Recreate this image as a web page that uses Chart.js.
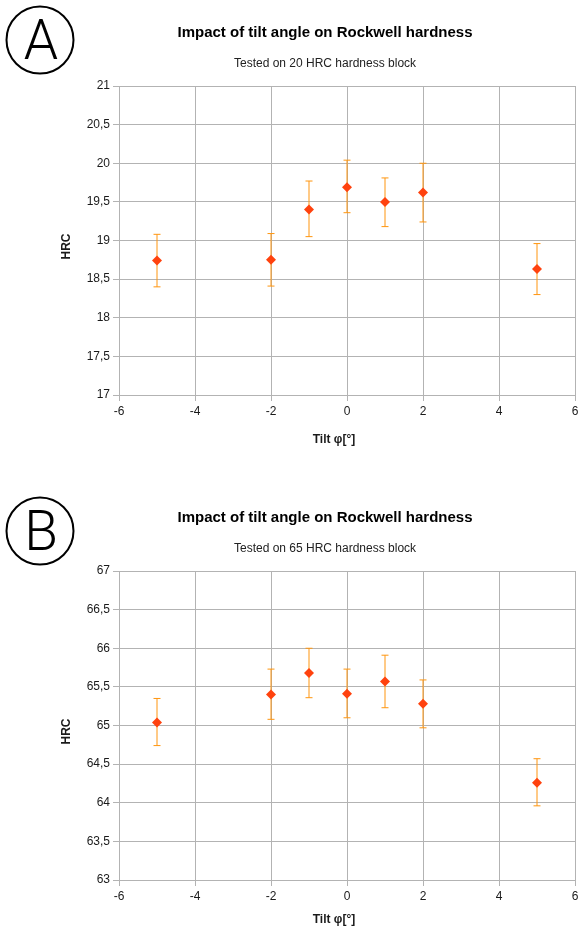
<!DOCTYPE html>
<html><head><meta charset="utf-8">
<script src="https://cdn.jsdelivr.net/npm/chart.js@4.4.1/dist/chart.umd.min.js"></script>
<style>
html,body{margin:0;padding:0;background:#fff;overflow:hidden;width:580px;height:928px}
.box{position:absolute;left:0;width:580px;height:470px}
#boxA{top:0}
#boxB{top:485px}
</style></head><body>
<div class="box" id="boxA"><canvas id="chartA"></canvas></div>
<div class="box" id="boxB"><canvas id="chartB"></canvas></div>
<script>
// ---- data ----
const tiltAngles = [-5, -2, -1, 0, 1, 2, 5];
const xTickValues = [-6, -4, -2, 0, 2, 4, 6];

const hrcA     = [18.74, 18.75, 19.40, 19.69, 19.50, 19.62, 18.63];
const hrcAHigh = [19.08, 19.09, 19.77, 20.04, 19.81, 20.00, 18.96];
const hrcALow  = [18.40, 18.41, 19.05, 19.36, 19.18, 19.24, 18.30];
const yTicksA  = [17, 17.5, 18, 18.5, 19, 19.5, 20, 20.5, 21];

const hrcB     = [65.04, 65.40, 65.68, 65.41, 65.57, 65.28, 64.26];
const hrcBHigh = [65.35, 65.73, 66.00, 65.73, 65.91, 65.59, 64.57];
const hrcBLow  = [64.74, 65.08, 65.36, 65.10, 65.23, 64.97, 63.96];
const yTicksB  = [63, 63.5, 64, 64.5, 65, 65.5, 66, 66.5, 67];

const titleText  = 'Impact of tilt angle on Rockwell hardness';
const subtitleA  = 'Tested on 20 HRC hardness block';
const subtitleB  = 'Tested on 65 HRC hardness block';
const xAxisTitle = 'Tilt φ[°]';
const yAxisTitle = 'HRC';
const panelLetters = ['A', 'B'];

// ---- styles ----
const GRID = '#b3b3b3';
const MARK = '#ff420e';
const ERR  = '#ff950e';
const TXT  = '#1a1a1a';
const FONT = "'Liberation Sans', Arial, sans-serif";

const decorPlugin = {
  id: 'decor',
  beforeDatasetsDraw(chart, args, opts) {
    const {ctx, scales: {x, y}} = chart;
    ctx.save();
    ctx.strokeStyle = ERR;
    ctx.lineWidth = 1;
    opts.low.forEach((lo, i) => {
      const px = x.getPixelForValue(tiltAngles[i]);
      const pLo = y.getPixelForValue(lo);
      const pHi = y.getPixelForValue(opts.high[i]);
      ctx.beginPath();
      ctx.moveTo(px, pLo); ctx.lineTo(px, pHi);
      ctx.moveTo(px - 3.5, pLo); ctx.lineTo(px + 3.5, pLo);
      ctx.moveTo(px - 3.5, pHi); ctx.lineTo(px + 3.5, pHi);
      ctx.stroke();
    });
    ctx.restore();
  },
  afterDraw(chart, args, opts) {
    const {ctx, chartArea: ca} = chart;
    ctx.save();
    // panel letter in circle
    ctx.strokeStyle = '#000';
    ctx.lineWidth = 2;
    ctx.beginPath();
    ctx.arc(opts.cx, opts.cy, 33.5, 0, Math.PI * 2);
    ctx.stroke();
    ctx.fillStyle = '#000';
    ctx.font = "300 55px Roboto, 'Liberation Sans', sans-serif";
    ctx.textAlign = 'center';
    ctx.textBaseline = 'alphabetic';
    ctx.fillText(opts.letter, opts.cx + 1, opts.cy + 19);
    // axis titles
    ctx.fillStyle = TXT;
    ctx.font = "bold 12px " + FONT;
    ctx.textBaseline = 'middle';
    ctx.fillText(xAxisTitle, (ca.left + ca.right) / 2 - 13, ca.bottom + opts.xTitleOffset);
    ctx.translate(67, (ca.top + ca.bottom) / 2 + 6);
    ctx.rotate(-Math.PI / 2);
    ctx.fillText(yAxisTitle, 0, 0);
    ctx.restore();
  }
};

function makeChart(id, values, high, low, yTicks, subtitle, letter, cy, xTitleOffset) {
  return new Chart(document.getElementById(id), {
    type: 'scatter',
    data: {
      datasets: [{
        data: tiltAngles.map((t, i) => ({x: t, y: values[i]})),
        pointStyle: 'rectRot',
        pointRadius: 5,
        pointHoverRadius: 5,
        backgroundColor: MARK,
        borderColor: MARK,
        borderWidth: 0,
        showLine: false
      }]
    },
    plugins: [decorPlugin],
    options: {
      responsive: true,
      maintainAspectRatio: false,
      animation: false,
      layout: {padding: {top: 0, left: 70, right: 0, bottom: 23}},
      plugins: {
        legend: {display: false},
        tooltip: {enabled: false},
        title: {
          display: true, text: titleText, color: '#000',
          font: {family: FONT, size: 15, weight: 'bold', lineHeight: 1.2},
          padding: {top: 24, bottom: 0}
        },
        subtitle: {
          display: true, text: subtitle, color: '#222',
          font: {family: FONT, size: 12, lineHeight: 1.2},
          padding: {top: 14.8, bottom: 14.8}
        },
        decor: {high: high, low: low, letter: letter, cx: 40, cy: cy, xTitleOffset: xTitleOffset}
      },
      scales: {
        x: {
          type: 'linear',
          min: xTickValues[0], max: xTickValues[xTickValues.length - 1],
          afterBuildTicks: s => { s.ticks = xTickValues.map(v => ({value: v})); },
          afterFit: s => { s.height = 52; s.paddingRight = 3; s.paddingLeft = 0; },
          grid: {color: GRID, tickLength: 6, lineWidth: 1},
          border: {color: GRID},
          ticks: {color: TXT, padding: 3, font: {family: FONT, size: 12}, maxRotation: 0,
                  callback: v => String(v)}
        },
        y: {
          type: 'linear',
          min: yTicks[0], max: yTicks[yTicks.length - 1],
          afterBuildTicks: s => { s.ticks = yTicks.map(v => ({value: v})); },
          afterFit: s => { s.width = 49; },
          grid: {color: GRID, tickLength: 6, lineWidth: 1},
          border: {color: GRID},
          ticks: {color: TXT, padding: 3, font: {family: FONT, size: 12},
                  callback: v => String(v).replace('.', ',')}
        }
      }
    }
  });
}

makeChart('chartA', hrcA, hrcAHigh, hrcALow, yTicksA, subtitleA, panelLetters[0], 40, 45);
makeChart('chartB', hrcB, hrcBHigh, hrcBLow, yTicksB, subtitleB, panelLetters[1], 46, 40);
</script>
</body></html>
